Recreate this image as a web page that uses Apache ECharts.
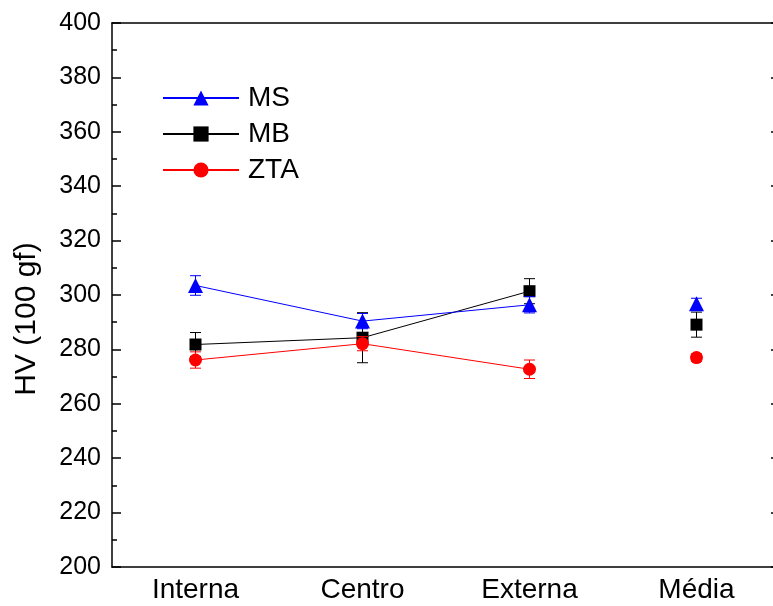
<!DOCTYPE html>
<html>
<head>
<meta charset="utf-8">
<script src="https://cdn.jsdelivr.net/npm/echarts@6/dist/echarts.min.js"></script>
<style>
html,body{margin:0;padding:0;background:#fff;}
#chart{width:773px;height:606px;}
</style>
</head>
<body>
<div id="chart"></div>
<script>
const categories = ['Interna', 'Centro', 'Externa', 'Média'];
const msMean = [303.5, 290.4, 296.4, 296.8];
const msErr = [3.6, 2.8, 3.0, 2.0];
const mbMean = [281.8, 284.3, 301.4, 289.1];
const mbErr = [4.4, 9.2, 4.6, 4.6];
const ztaMean = [276.1, 282.1, 272.7, 277.0];
const ztaErr = [3.0, 2.6, 3.4, 1.4];
const yMin = 200, yMax = 400, yStep = 20;
const yName = 'HV (100 gf)';

const FONT = 'Liberation Sans, Arial, sans-serif';

function linePart(arr) { return arr.map((v, i) => i < 3 ? v : '-'); }
function meanPart(arr) { return arr.map((v, i) => i === 3 ? v : '-'); }
function errData(mean, err) { return mean.map((m, i) => [i, m - err[i], m + err[i]]); }

function errSeries(mean, err, color, z) {
  return {
    type: 'custom',
    z: z,
    silent: true,
    xAxisIndex: 0, yAxisIndex: 0,
    data: errData(mean, err),
    encode: { x: 0, y: [1, 2] },
    renderItem: function (params, api) {
      const x = api.value(0);
      const lo = api.coord([x, api.value(1)]);
      const hi = api.coord([x, api.value(2)]);
      const w = 5.5;
      const st = { stroke: color, lineWidth: 1 };
      return {
        type: 'group',
        children: [
          { type: 'line', shape: { x1: lo[0], y1: lo[1], x2: hi[0], y2: hi[1] }, style: st },
          { type: 'line', shape: { x1: lo[0] - w, y1: lo[1], x2: lo[0] + w, y2: lo[1] }, style: st },
          { type: 'line', shape: { x1: hi[0] - w, y1: hi[1], x2: hi[0] + w, y2: hi[1] }, style: st }
        ]
      };
    }
  };
}

function pointSeries(name, data, color, symbol, size, z, withLine) {
  return {
    name: name,
    type: 'line',
    z: z,
    data: data,
    symbol: symbol,
    symbolSize: size,
    showSymbol: true,
    connectNulls: false,
    animation: false,
    lineStyle: { color: color, width: withLine ? 1 : 0 },
    itemStyle: { color: color },
    emphasis: { disabled: true }
  };
}

const axisLineStyle = { color: '#000', width: 1.5 };

const chart = echarts.init(document.getElementById('chart'), null, { renderer: 'canvas' });
chart.setOption({
  animation: false,
  backgroundColor: '#fff',
  grid: { left: 112, right: -7, top: 23, bottom: 39, containLabel: false, outerBoundsMode: 'none' },
  legend: {
    data: ['MS', 'MB', 'ZTA'],
    orient: 'vertical',
    left: 157,
    top: 78,
    itemWidth: 76,
    itemHeight: 19,
    itemGap: 6,
    textStyle: { fontFamily: FONT, fontSize: 28, color: '#000', lineHeight: 30, padding: [0, 0, 0, 4] },
    selectedMode: false
  },
  xAxis: [
    {
      type: 'category', data: categories, position: 'bottom', boundaryGap: true,
      axisLine: { lineStyle: axisLineStyle },
      axisTick: { alignWithLabel: true, inside: true, length: 9, lineStyle: { color: '#000', width: 1.5 } },
      axisLabel: { fontFamily: FONT, fontSize: 28, color: '#000', margin: 9 },
      splitLine: { show: false }
    },
    {
      type: 'category', data: categories, position: 'bottom', boundaryGap: true,
      axisLine: { show: false },
      axisTick: { alignWithLabel: false, inside: true, length: 4, lineStyle: { color: '#000', width: 1.5 } },
      axisLabel: { show: false },
      splitLine: { show: false }
    },
    {
      type: 'category', data: categories, position: 'top', boundaryGap: true,
      axisLine: { lineStyle: axisLineStyle },
      axisTick: { alignWithLabel: true, inside: true, length: 9, lineStyle: { color: '#000', width: 1.5 } },
      axisLabel: { show: false },
      splitLine: { show: false }
    },
    {
      type: 'category', data: categories, position: 'top', boundaryGap: true,
      axisLine: { show: false },
      axisTick: { alignWithLabel: false, inside: true, length: 4, lineStyle: { color: '#000', width: 1.5 } },
      axisLabel: { show: false },
      splitLine: { show: false }
    }
  ],
  yAxis: [
    {
      type: 'value', min: yMin, max: yMax, interval: yStep, position: 'left',
      axisLine: { show: true, lineStyle: axisLineStyle },
      axisTick: { show: true, inside: true, length: 9, lineStyle: { color: '#000', width: 1.5 } },
      minorTick: { show: true, splitNumber: 2, length: 5, lineStyle: { color: '#000', width: 1.5 } },
      axisLabel: { fontFamily: FONT, fontSize: 25, color: '#000', margin: 11 },
      splitLine: { show: false }
    },
    {
      type: 'value', min: yMin, max: yMax, interval: yStep, position: 'right',
      axisLine: { show: true, lineStyle: axisLineStyle },
      axisTick: { show: true, inside: true, length: 9, lineStyle: { color: '#000', width: 1.5 } },
      minorTick: { show: true, splitNumber: 2, length: 5, lineStyle: { color: '#000', width: 1.5 } },
      axisLabel: { show: false },
      splitLine: { show: false }
    }
  ],
  graphic: [
    {
      type: 'text',
      x: 27, y: 319,
      rotation: Math.PI / 2,
      style: { text: yName, fontFamily: FONT, fontSize: 30, fill: '#000', align: 'center', verticalAlign: 'middle' }
    }
  ],
  series: [
    errSeries(mbMean, mbErr, '#000', 2),
    pointSeries('MB', linePart(mbMean), '#000', 'rect', 12, 3, true),
    pointSeries('MB', meanPart(mbMean), '#000', 'rect', 12, 3, false),
    errSeries(msMean, msErr, '#0000ff', 4),
    pointSeries('MS', linePart(msMean), '#0000ff', 'triangle', 15, 5, true),
    pointSeries('MS', meanPart(msMean), '#0000ff', 'triangle', 15, 5, false),
    errSeries(ztaMean, ztaErr, '#ff0000', 6),
    pointSeries('ZTA', linePart(ztaMean), '#ff0000', 'circle', 13, 7, true),
    pointSeries('ZTA', meanPart(ztaMean), '#ff0000', 'circle', 13, 7, false)
  ]
});
</script>
</body>
</html>
